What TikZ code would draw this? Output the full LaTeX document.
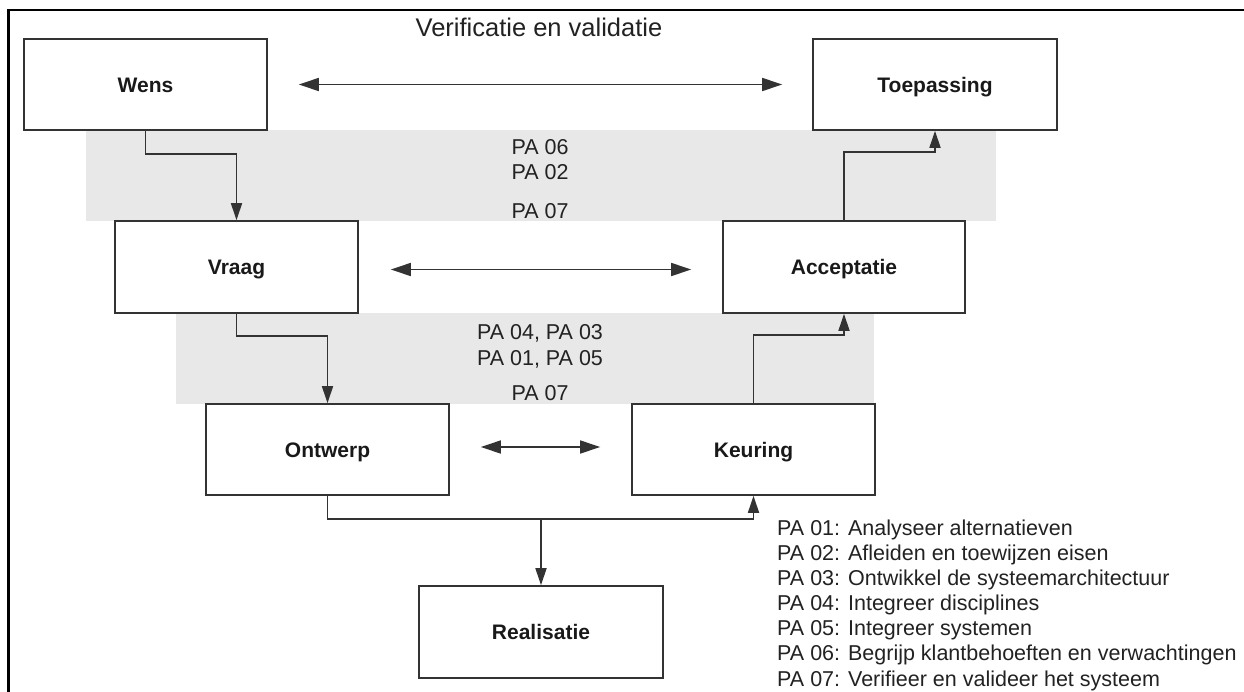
\documentclass[tikz,border=0pt]{standalone}
\usepackage{fontspec}
\setmainfont{Liberation Sans}
\usetikzlibrary{arrows.meta}
\definecolor{band}{HTML}{E8E8E8}
\definecolor{edge}{HTML}{333333}
\definecolor{ink}{HTML}{222222}

\begin{document}
\begin{tikzpicture}[x=1pt,y=-1pt,
  stage/.style={draw=edge, line width=1.7pt, fill=white,
    minimum width=243pt, minimum height=91pt, inner sep=0pt,
    text height=15pt, text depth=0pt,
    font=\fontsize{21}{25}\selectfont\bfseries, text=black!90},
  conn/.style={draw=edge, line width=1.7pt, -{Triangle[length=17pt,width=11pt]}},
  dbl/.style={draw=edge, line width=1.7pt,
    {Triangle[length=20pt,width=13pt]}-{Triangle[length=20pt,width=13pt]}},
  tag/.style={font=\fontsize{21.5}{25}\selectfont, text=ink, inner sep=0pt, anchor=base},
  legend/.style={tag, anchor=base west},
]
\useasboundingbox (0,0) rectangle (1244,691);
\fill[white] (0,0) rectangle (1244,691);

% frame
\draw[line width=2.3pt] (8.5,695) -- (8.5,10.2) -- (1248,10.2);

% shaded process-area bands
\fill[band] (86,130) rectangle (996,221);
\fill[band] (176,313) rectangle (874,404);

% title
\node[tag, font=\fontsize{25.5}{30}\selectfont] (title) at (539,36) {Verificatie en validatie};

% band labels
\node[tag] (b1a) at (540,154.7) {PA 06};
\node[tag] (b1b) at (540,179.7) {PA 02};
\node[tag] (b1c) at (540,218.7) {PA 07};
\node[tag] (b2a) at (540,339.7) {PA 04, PA 03};
\node[tag] (b2b) at (540,365.7) {PA 01, PA 05};
\node[tag] (b2c) at (540,400.7) {PA 07};

% stages
\node[stage] (wens)    at (145.5,84.5) {Wens};
\node[stage, minimum width=244pt] (toep) at (935,84.5) {Toepassing};
\node[stage, minimum height=92pt] (vraag)  at (236.5,267) {Vraag};
\node[stage, minimum width=242pt, minimum height=92pt] (accept) at (844,267) {Acceptatie};
\node[stage] (ontwerp) at (327.5,449.5) {Ontwerp};
\node[stage] (keuring) at (753.5,449.5) {Keuring};
\node[stage, minimum width=244pt, minimum height=92pt] (real) at (541,632) {Realisatie};

% verification links
\draw[dbl] ([xshift=31pt]wens.east) -- ([xshift=-30pt]toep.west);
\draw[dbl] ([xshift=32pt,yshift=-2.5pt]vraag.east) -- ([xshift=-31pt,yshift=-2.5pt]accept.west);
\draw[dbl] ([xshift=31pt,yshift=2.5pt]ontwerp.east) -- ([xshift=-31pt,yshift=2.5pt]keuring.west);

% descending side
\draw[conn] (wens.south) -- ++(0,23) -| (vraag.north);
\draw[conn] (vraag.south) -- ++(0,22) -| (ontwerp.north);

% ascending side
\draw[conn] (keuring.north) -- ++(0,-68) -| (accept.south);
\draw[conn] (accept.north) -- ++(0,-68) -| (toep.south);

% bottom: design to inspection, with branch to realisation
\draw[conn] (ontwerp.south) -- ++(0,23) coordinate (obase) -| (keuring.south);
\coordinate (junc) at (obase -| real.north);
\draw[conn] (junc) -- (real.north);

% legend
\node[legend] (leg1) at (777,535.0) {PA 01: Analyseer alternatieven};
\node[legend] (leg2) at (777,560.2) {PA 02: Afleiden en toewijzen eisen};
\node[legend] (leg3) at (777,585.3) {PA 03: Ontwikkel de systeemarchitectuur};
\node[legend] (leg4) at (777,610.5) {PA 04: Integreer disciplines};
\node[legend] (leg5) at (777,635.7) {PA 05: Integreer systemen};
\node[legend] (leg6) at (777,660.8) {PA 06: Begrijp klantbehoeften en verwachtingen};
\node[legend] (leg7) at (777,686.0) {PA 07: Verifieer en valideer het systeem};
\end{tikzpicture}
\end{document}
